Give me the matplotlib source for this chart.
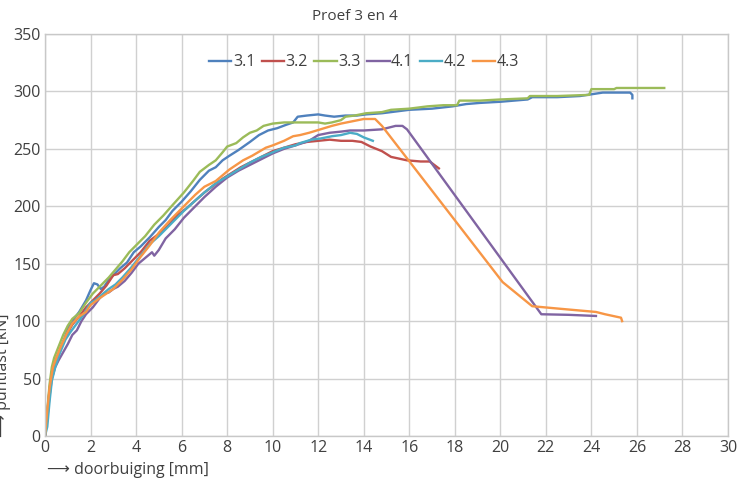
import matplotlib
matplotlib.use('Agg')
import matplotlib.pyplot as plt

plt.rcParams['font.family'] = ['Open Sans', 'DejaVu Sans']

# doorbuiging [mm] / puntlast [kN]
x31 = [0, 0.1, 0.2, 0.3, 0.45, 0.6, 0.8, 1.0, 1.2, 1.5, 1.8, 2.0, 2.15, 2.3, 2.45, 2.6, 2.8, 3.0,
       3.3, 3.6, 3.9, 4.2, 4.6, 5.0, 5.3, 5.6, 6.0, 6.4, 6.8, 7.2, 7.5, 7.8, 8.1, 8.5, 9.0, 9.4,
       9.8, 10.2, 10.6, 10.9, 11.1, 11.5, 12.0, 12.3, 12.7, 13.2, 13.7, 14.1, 14.8, 15.2, 16.0,
       17.0, 17.9, 18.5, 19.1, 20.0, 21.2, 21.4, 22.5, 23.5, 24.0, 24.5, 25.2, 25.7, 25.8, 25.8]
y31 = [0, 20, 40, 55, 65, 72, 82, 93, 100, 108, 118, 127, 133, 132, 128, 130, 136, 140,
       146, 151, 160, 165, 173, 182, 188, 196, 204, 213, 223, 231, 234, 240, 244, 249, 256, 262,
       266, 268, 271, 273, 278, 279, 280, 279, 278, 279, 279, 280, 281, 282, 284,
       285, 287, 289, 290, 291, 293, 295, 295, 296, 297.5, 299, 299, 299, 297, 294]

x32 = [0, 0.1, 0.2, 0.3, 0.45, 0.6, 0.8, 1.0, 1.2, 1.5, 1.8, 2.1, 2.4, 2.7, 3.0, 3.2, 3.5, 3.8,
       4.2, 4.6, 5.0, 5.4, 5.8, 6.2, 6.6, 7.0, 7.4, 7.8, 8.2, 8.6, 9.0, 9.5, 10.0, 10.5, 11.0,
       11.5, 12.0, 12.5, 13.0, 13.5, 13.9, 14.3, 14.8, 15.2, 15.9, 16.5, 16.9, 17.1, 17.3]
y32 = [0, 20, 40, 55, 64, 72, 82, 90, 97, 104, 112, 118, 124, 131, 140, 141, 146, 152,
       160, 170, 176, 183, 192, 198, 205, 212, 218, 224, 229, 234, 238, 243, 248, 251, 254,
       256, 257, 258, 257, 257, 256, 252, 248, 243, 240, 239, 239, 236, 233]

x33 = [0, 0.1, 0.2, 0.3, 0.4, 0.6, 0.8, 1.0, 1.2, 1.5, 1.8, 2.1, 2.4, 2.8, 3.1, 3.4, 3.7, 4.1,
       4.4, 4.8, 5.2, 5.6, 6.1, 6.5, 6.8, 7.2, 7.5, 7.8, 8.0, 8.4, 8.7, 9.0, 9.3, 9.6, 10.0,
       10.5, 11.0, 11.5, 12.0, 12.3, 12.6, 13.0, 13.2, 13.6, 14.1, 14.8, 15.2, 16.0, 16.8, 17.5,
       18.1, 18.2, 19.1, 20.0, 21.2, 21.3, 22.5, 23.9, 24.0, 25.0, 25.1, 26.0, 27.2]
y33 = [0, 22, 45, 60, 68, 78, 88, 96, 102, 107, 116, 124, 130, 138, 145, 152, 160, 168,
       174, 184, 192, 201, 212, 222, 230, 236, 240, 247, 252, 255, 260, 264, 266, 270, 272,
       273, 273, 273, 273, 272, 273, 275, 278, 279, 281, 282, 284, 285, 287, 288,
       288, 292, 292, 293, 294, 296, 296, 297, 302, 302, 303, 303, 303]

x41 = [0, 0.1, 0.2, 0.3, 0.45, 0.6, 0.8, 1.0, 1.2, 1.4, 1.6, 1.8, 2.1, 2.4, 2.6, 2.8, 3.0, 3.2,
       3.5, 3.8, 4.1, 4.4, 4.7, 4.8, 5.0, 5.3, 5.7, 6.1, 6.5, 7.0, 7.5, 8.0, 8.5, 9.0, 9.5,
       10.0, 10.5, 11.0, 11.6, 12.0, 12.5, 13.0, 13.4, 14.0, 14.8, 15.4, 15.7, 15.9, 21.8, 23.0, 24.2]
y41 = [0, 15, 35, 50, 60, 66, 73, 80, 88, 92, 100, 106, 112, 120, 124, 125, 128, 130,
       135, 142, 150, 155, 160, 157, 162, 172, 180, 190, 198, 208, 217, 225, 231, 236, 241,
       246, 250, 253, 257, 262, 264, 265, 266, 266, 267, 270, 270, 267, 106, 105.5, 104.5]

x42 = [0, 0.1, 0.2, 0.3, 0.45, 0.65, 0.9, 1.1, 1.4, 1.7, 2.0, 2.2, 2.5, 2.8, 3.1, 3.4, 3.8, 4.2,
       4.6, 5.0, 5.5, 6.1, 6.6, 7.0, 7.5, 8.0, 8.5, 9.0, 9.5, 10.0, 10.5, 11.0, 11.2, 11.7,
       12.1, 12.6, 13.0, 13.4, 13.7, 14.0, 14.4]
y42 = [0, 8, 30, 48, 60, 72, 84, 90, 98, 106, 116, 118, 123, 128, 132, 138, 147, 157,
       167, 174, 184, 196, 205, 212, 220, 226, 232, 238, 243, 247, 251, 253, 255, 258,
       259, 261, 262, 264, 263, 260, 257]

x43 = [0, 0.1, 0.2, 0.35, 0.5, 0.7, 0.95, 1.2, 1.5, 1.8, 2.0, 2.4, 2.7, 3.0, 3.4, 3.8, 4.2, 4.6,
       5.0, 5.5, 6.1, 6.6, 7.0, 7.5, 8.1, 8.7, 9.1, 9.7, 10.0, 10.5, 10.9, 11.2, 11.6, 12.1,
       12.6, 13.0, 13.5, 14.0, 14.5, 14.8, 20.1, 21.4, 22.5, 24.2, 24.6, 25.3, 25.35]
y43 = [0, 22, 42, 60, 68, 78, 89, 98, 104, 108, 114, 120, 124, 128, 136, 145, 156, 166,
       177, 188, 200, 210, 217, 222, 232, 240, 244, 251, 253, 257, 261, 262, 264, 267,
       270, 272, 274, 276, 276, 270, 134, 113, 111, 108, 106, 103, 100]

labels = ['3.1', '3.2', '3.3', '4.1', '4.2', '4.3']
colors = ['#4F81BD', '#C0504D', '#9BBB59', '#8064A2', '#4BACC6', '#F79646']
series = [(x31, y31), (x32, y32), (x33, y33), (x41, y41), (x42, y42), (x43, y43)]

fig = plt.figure(figsize=(7.38, 4.83), dpi=100)
ax = fig.add_axes([45 / 738, 1 - 436 / 483, 683 / 738, 402 / 483])

for (xs, ys), lab, c in zip(series, labels, colors):
    ax.plot(xs, ys, color=c, lw=1.7, label=lab, solid_joinstyle='round')

ax.set_xlim(0, 30)
ax.set_ylim(0, 350)
ax.set_xticks(range(0, 31, 2))
ax.set_yticks(range(0, 351, 50))
ax.grid(True, color='#D0D0D0', lw=1)
ax.set_axisbelow(True)
for s in ax.spines.values():
    s.set_color('#C8C8C8')
    s.set_linewidth(1)
ax.tick_params(length=0, labelsize=11.5, colors='#404040', pad=3)

ax.legend(loc='upper center', bbox_to_anchor=(0.467, 0.985), ncol=6, frameon=False,
          fontsize=11.5, handlelength=1.4, handletextpad=0.1, columnspacing=0.4,
          labelcolor='#404040')

fig.text(355 / 738, 1 - 17 / 483, 'Proef 3 en 4', fontsize=11, color='#404040',
         ha='center', va='center')
fig.text(47 / 738, 1 - 470 / 483, '⟶ doorbuiging [mm]', fontsize=11.5, color='#404040',
         ha='left', va='center')
fig.text(3 / 738, 1 - 437 / 483, '⟶ puntlast [kN]', fontsize=11.5, color='#404040',
         rotation=90, ha='center', va='bottom')

fig.savefig('out.png', dpi=100)
